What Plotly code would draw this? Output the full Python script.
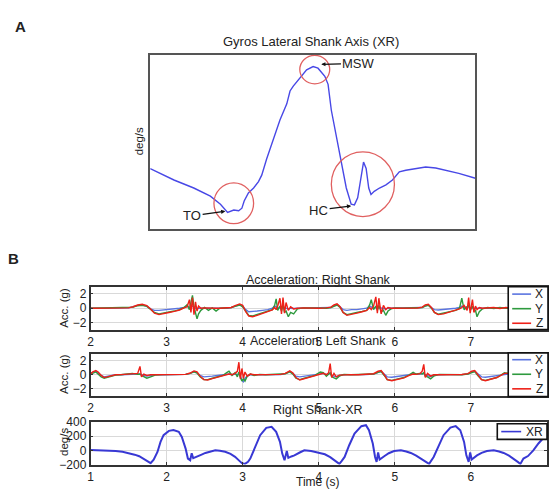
import plotly.graph_objects as go

W, H = 549, 493

# ---------------- Panel A data (one gait cycle, arbitrary units) ----------------
a_x = [0, 7.3, 13.4, 18.5, 21.6, 23.8, 25.7, 27.2, 28.2, 28.9, 30.2, 31.8, 33.3, 34.3, 35.8,
       37.9, 39.9, 42.0, 43.0, 44.0, 46.0, 48.1, 50.1, 51.6, 53.7, 54.7, 55.7, 57.2, 58.8,
       60.3, 61.8, 62.8, 63.8, 64.9, 65.6, 66.4, 67.2, 67.9, 68.9, 70.5, 72.5, 74.5, 76.6,
       78.6, 81.7, 84.7, 87.8, 90.8, 94.9, 100]
a_y = [34.5, 27.9, 23.3, 18.6, 14.0, 9.3, 10.6, 10.2, 11.7, 15.8, 20.5, 23.3, 27.0, 30.7, 40.0,
       51.2, 62.4, 71.7, 79.1, 81.9, 86.6, 91.2, 93.1, 92.2, 87.5, 82.9, 68.0, 53.1, 38.2,
       23.3, 14.0, 13.6, 17.7, 30.7, 38.2, 34.5, 23.3, 19.6, 21.4, 23.3, 25.1, 27.9, 32.6,
       33.5, 34.5, 35.4, 34.8, 33.5, 31.7, 28.9]

# events: name, arrow head (x,y), text position (x,y), circle center (x,y), circle radius (rx, ry)
ev_names = ["TO", "MSW", "HC"]
ev_head = [(23.1, 9.9), (52.6, 94.4), (61.8, 13.0)]
ev_text = [(12.9, 7.4), (64.2, 95.0), (51.8, 10.6)]
ev_circle_c = [(25.7, 14.5), (50.6, 91.4), (65.4, 25.5)]
ev_circle_r = [(6.1, 11.7), (4.6, 8.2), (9.7, 18.6)]

# ---------------- Panel B: right shank acceleration ----------------
r_t = [2.00, 2.10, 2.20, 2.30, 2.40, 2.50, 2.56, 2.62, 2.68, 2.74, 2.79, 2.84, 2.90, 2.96, 3.03,
       3.10, 3.17, 3.23, 3.27, 3.30, 3.32, 3.34, 3.36, 3.38, 3.40, 3.42, 3.45, 3.50, 3.55, 3.60,
       3.65, 3.70, 3.75, 3.80, 3.85, 3.90, 3.96, 4.00, 4.04, 4.08, 4.13, 4.19, 4.26, 4.33, 4.39,
       4.42, 4.44, 4.46, 4.49, 4.51, 4.53, 4.55, 4.57, 4.60, 4.63, 4.67, 4.72, 4.80, 4.90, 5.00,
       5.10, 5.16, 5.20, 5.24, 5.28, 5.32, 5.37, 5.43, 5.50, 5.57, 5.63, 5.67, 5.69, 5.72, 5.75,
       5.77, 5.79, 5.82, 5.85, 5.88, 5.91, 5.95, 6.00, 6.10, 6.20, 6.30, 6.36, 6.40, 6.44, 6.48,
       6.52, 6.57, 6.64, 6.72, 6.80, 6.85, 6.88, 6.91, 6.95, 6.97, 6.99, 7.02, 7.04, 7.06, 7.08,
       7.11, 7.15, 7.22, 7.30, 7.38, 7.46, 7.55, 7.62]
r_x = [0, 0, 0, 0.02, 0, 0.05, 0.2, 0.4, 0.45, 0.3, -0.1, -0.3, -0.3, -0.25, -0.2,
       -0.1, 0, 0.1, 0.3, 0.1, 0.2, 0.3, 0.1, 0, -0.1, 0, 0, 0.05, 0, 0,
       -0.05, 0, 0, 0, 0.1, 0.3, 0.5, 0.3, -0.2, -0.5, -0.5, -0.4, -0.3, -0.2, 0,
       0.3, 0.2, 0, 0.1, -0.1, 0.2, 0, 0, -0.1, 0, -0.05, 0, 0, 0, 0.02,
       0, 0.1, 0.35, 0.5, 0.2, -0.2, -0.3, -0.2, -0.2, -0.1, 0, 0.3, 0.2, 0, 0.1,
       -0.1, 0.1, 0, 0, -0.1, 0, 0, 0, 0.02, 0, 0, 0.1, 0.35, 0.45, 0.1,
       -0.2, -0.25, -0.2, -0.1, 0, 0.1, 0.3, 0.1, 0.1, 0.2, 0, 0.1, 0, 0, -0.1,
       0, 0, 0, 0.02, 0, 0.05, 0, 0]
r_y = [0, 0.02, 0, 0, 0.02, 0.05, 0.15, 0.35, 0.4, 0.25, -0.2, -0.6, -0.8, -0.7, -0.55,
       -0.4, -0.2, 0.1, 0.5, -0.2, 0.8, 1.8, 0.2, -0.6, -1.5, -0.8, -0.3, 0.1, -0.3, 0.05,
       -0.4, 0, 0.05, 0, 0.1, 0.25, 0.45, 0.2, -0.5, -1.0, -1.1, -0.9, -0.7, -0.45, -0.2,
       0.4, 1.3, -0.3, 0.3, -0.4, 0.5, -0.6, -0.4, -1.2, -0.6, -0.8, -0.1, 0.05, 0, 0.05,
       0, 0.1, 0.3, 0.45, 0.1, -0.6, -0.9, -0.8, -0.6, -0.45, -0.3, 0.5, 1.2, -0.2, 0.3,
       -0.3, 0.4, -0.5, -0.3, -1.0, -0.4, -0.1, 0.05, 0, 0.05, 0, 0.1, 0.3, 0.4, 0,
       -0.6, -0.85, -0.7, -0.5, -0.3, 0, 1.4, -0.2, 0.3, 0.4, -0.3, 0.3, -0.4, -0.3, -1.2,
       -0.5, -0.1, 0.1, -0.05, 0.1, 0, 0.05, 0]
r_z = [0, 0, -0.02, 0, 0, 0.05, 0.2, 0.45, 0.55, 0.35, -0.1, -0.7, -0.9, -0.8, -0.6,
       -0.45, -0.25, 0.05, 0.2, 1.2, -0.6, 1.5, -0.9, 0.9, -0.4, 0.3, 0, 0.05, 0, 0.05,
       0, 0, 0, 0.05, 0.1, 0.35, 0.6, 0.4, -0.5, -1.1, -1.2, -1.0, -0.75, -0.5, -0.25,
       0.1, -0.2, 0.3, 1.4, -0.8, 1.5, -0.7, 0.8, -0.3, 0.2, -0.1, 0, 0.05, 0, 0,
       0.05, 0.15, 0.45, 0.6, 0.2, -0.6, -1.0, -0.9, -0.7, -0.5, -0.3, 0.1, -0.2, 0.3, 1.6,
       -0.7, 1.4, -0.8, 0.4, -0.2, 0.1, 0, 0, 0.05, 0, 0.02, 0.15, 0.45, 0.55, 0.1,
       -0.6, -0.9, -0.8, -0.55, -0.35, -0.1, 0.1, 0.4, -0.3, 1.5, -0.7, 1.2, -0.6, 0.3, -0.2,
       0.1, 0, 0.05, 0.1, -0.05, 0.1, 0, 0.05]

# ---------------- Panel B: left shank acceleration ----------------
l_t = [2.00, 2.03, 2.07, 2.10, 2.14, 2.18, 2.22, 2.27, 2.33, 2.40, 2.48, 2.55, 2.62, 2.65, 2.67,
       2.70, 2.74, 2.79, 2.85, 2.95, 3.05, 3.15, 3.25, 3.31, 3.36, 3.40, 3.44, 3.49, 3.54, 3.60,
       3.67, 3.74, 3.79, 3.82, 3.86, 3.90, 3.93, 3.95, 3.97, 3.99, 4.01, 4.03, 4.06, 4.10, 4.15,
       4.22, 4.30, 4.40, 4.50, 4.56, 4.62, 4.66, 4.70, 4.75, 4.81, 4.88, 4.95, 5.02, 5.06, 5.10,
       5.13, 5.15, 5.17, 5.20, 5.23, 5.27, 5.33, 5.42, 5.52, 5.62, 5.72, 5.78, 5.82, 5.86, 5.90,
       5.96, 6.04, 6.12, 6.19, 6.24, 6.28, 6.33, 6.36, 6.38, 6.40, 6.43, 6.47, 6.51, 6.58, 6.68,
       6.78, 6.88, 6.96, 7.01, 7.05, 7.09, 7.14, 7.19, 7.26, 7.34, 7.40, 7.44, 7.50, 7.56, 7.62]
l_x = [0.2, 0.3, 0.5, 0.3, -0.1, -0.3, -0.2, -0.1, 0, 0, 0.05, 0.15, 0.1, 0.1, 0,
       -0.1, -0.2, -0.1, 0, 0, 0, 0.02, 0.05, 0.2, 0.45, 0.3, -0.1, -0.3, -0.3, -0.2,
       -0.1, 0, 0.1, 0.1, 0, 0.1, 0, 0.1, -0.2, -0.8, -1.0, -0.5, -0.2, 0, 0,
       0, 0.02, 0, 0.02, 0.15, 0.45, 0.2, -0.2, -0.3, -0.2, -0.1, 0, 0.1, 0.2, 0,
       0.1, 0.2, -0.1, -0.2, -0.3, -0.1, 0, 0.02, 0, 0.02, 0.1, 0.4, 0.5, 0.1, -0.3,
       -0.35, -0.25, -0.15, 0, 0.15, 0.05, 0.1, 0.1, 0.2, 0, -0.1, -0.3, -0.1, 0, 0.02,
       0, 0.02, 0.1, 0.4, 0.5, 0.1, -0.3, -0.35, -0.25, -0.15, 0, 0.1, 0.1, 0.2, 0.1]
l_y = [0.3, 0.2, 0.4, 0.1, -0.3, -0.5, -0.4, -0.2, -0.05, 0, 0.05, 0.2, 0.05, 0.1, -0.1,
       -0.3, -0.5, -0.3, -0.05, 0.02, 0, 0.03, 0.05, 0.2, 0.4, 0.25, -0.3, -0.7, -0.7, -0.5,
       -0.3, -0.1, 0.3, 0.5, -0.1, 0.3, -0.3, 0.4, -0.4, -0.9, -0.6, -0.9, -0.2, 0.1, -0.1,
       0.05, 0, 0.02, 0.05, 0.15, 0.4, 0.1, -0.5, -0.7, -0.5, -0.3, -0.1, 0.4, 0.3, -0.2,
       0.2, 0.3, -0.3, -0.4, -0.6, -0.2, 0.05, 0, 0.03, 0, 0.1, 0.35, 0.45, -0.1, -0.7,
       -0.8, -0.6, -0.4, 0, 0.35, 0.1, 0.2, 0.1, 0.3, -0.2, -0.3, -0.6, -0.2, 0.05, 0,
       0.03, 0, 0.1, 0.35, 0.45, -0.1, -0.7, -0.8, -0.6, -0.4, 0, 0.3, 0.2, 0.3, 0.2]
l_z = [0.1, 0.4, 0.6, 0.4, -0.1, -0.4, -0.3, -0.15, 0, 0.02, 0.05, 0.15, 0.2, 1.2, -0.3,
       0.1, -0.1, 0, 0, 0.02, 0, 0, 0.05, 0.25, 0.55, 0.4, -0.2, -0.7, -0.75, -0.55,
       -0.35, -0.1, 0.05, 0.1, 0, 0.2, 0.5, 1.8, -0.6, 0.9, -0.5, 0.4, -0.2, 0.1, 0,
       0, 0.02, 0, 0.05, 0.2, 0.55, 0.25, -0.4, -0.75, -0.55, -0.3, -0.1, 0.1, 0.2, 0,
       0.3, 1.6, -0.4, 0.2, -0.3, -0.05, 0, 0.02, 0, 0.03, 0.15, 0.5, 0.6, 0, -0.7,
       -0.85, -0.65, -0.45, -0.1, 0.1, 0.05, 0.15, 0.5, 1.5, -0.4, 0.2, -0.2, 0, 0, 0.02,
       0, 0.03, 0.15, 0.5, 0.6, 0.05, -0.7, -0.85, -0.65, -0.4, -0.05, 0.2, 0.2, 0.4, 0.3]

# ---------------- Panel B: right shank gyro XR ----------------
g_t = [1.00, 1.10, 1.20, 1.33, 1.42, 1.50, 1.58, 1.64, 1.70, 1.75, 1.79, 1.83, 1.88, 1.92, 1.96,
       2.03, 2.09, 2.16, 2.20, 2.25, 2.28, 2.31, 2.33, 2.35, 2.40, 2.46, 2.51, 2.58, 2.64, 2.70,
       2.77, 2.84, 2.90, 2.95, 2.99, 3.03, 3.07, 3.10, 3.16, 3.23, 3.31, 3.38, 3.44, 3.49, 3.52,
       3.55, 3.58, 3.60, 3.64, 3.68, 3.75, 3.81, 3.90, 4.00, 4.08, 4.15, 4.21, 4.27, 4.30, 4.34,
       4.40, 4.47, 4.56, 4.62, 4.66, 4.71, 4.74, 4.76, 4.78, 4.80, 4.86, 4.92, 4.99, 5.08, 5.15,
       5.21, 5.28, 5.34, 5.40, 5.45, 5.51, 5.58, 5.64, 5.73, 5.80, 5.86, 5.91, 5.94, 5.97, 5.99,
       6.01, 6.08, 6.14, 6.21, 6.30, 6.37, 6.43, 6.50, 6.56, 6.62, 6.65, 6.69, 6.75, 6.82, 6.89,
       6.95, 7.00]
g_xr = [5, 3, 0, -10, -20, -36, -60, -82, -120, -162, -180, -130, -22, 119, 213,
        274, 285, 260, 189, 25, -115, -138, -40, -110, -92, -60, -36, -10, 2, -5,
        -20, -50, -90, -140, -180, -190, -160, -115, 48, 213, 316, 330, 260, 119, -45,
        -138, -10, -105, -85, -70, -30, 0, -10, -30, -55, -95, -138, -190, -150, -92,
        72, 236, 340, 353, 283, 96, -92, -162, -30, -128, -82, -40, -10, 0, -15,
        -36, -75, -115, -160, -190, -92, 72, 213, 320, 340, 283, 119, -70, -162, -30,
        -128, -70, -35, -10, 0, -15, -36, -75, -115, -165, -190, -115, -80, 0, 100,
        180, 230]

acc_labels = ["X", "Y", "Z"]
acc_colors = ["#5b74e0", "#2e9a3e", "#ee2018"]
xr_label = "XR"
xr_color = "#3838d4"

FONT = "Liberation Sans, Arial, sans-serif"
TXT = "#222222"


def px(v):
    return v / W


def py(v):
    return 1 - v / H


fig = go.Figure()

# Panel A
fig.add_trace(go.Scatter(x=a_x, y=a_y, mode="lines", line=dict(color="#4848e6", width=1.4),
                         xaxis="x", yaxis="y", showlegend=False, hoverinfo="skip"))

# Row 1, 2
for i, (lab, col) in enumerate(zip(acc_labels, acc_colors)):
    fig.add_trace(go.Scatter(x=r_t, y=[r_x, r_y, r_z][i], mode="lines",
                             line=dict(color=col, width=1.4), xaxis="x2", yaxis="y2",
                             showlegend=False, name=lab))
for i, (lab, col) in enumerate(zip(acc_labels, acc_colors)):
    fig.add_trace(go.Scatter(x=l_t, y=[l_x, l_y, l_z][i], mode="lines",
                             line=dict(color=col, width=1.4), xaxis="x3", yaxis="y3",
                             showlegend=False, name=lab))
fig.add_trace(go.Scatter(x=g_t, y=g_xr, mode="lines", line=dict(color=xr_color, width=2),
                         xaxis="x4", yaxis="y4", showlegend=False, name=xr_label))

xdom = [px(88), px(547)]
common_ax = dict(showline=True, mirror="ticks", linecolor="#333333", linewidth=1.6,
                 ticks="inside", ticklen=3, tickcolor="#333333", showgrid=True,
                 gridcolor="#d9d9d9", gridwidth=1, zeroline=False,
                 tickfont=dict(family=FONT, size=12, color=TXT))

layout = dict(
    width=W, height=H, margin=dict(l=0, r=0, t=0, b=0),
    paper_bgcolor="white", plot_bgcolor="white", showlegend=False,
    xaxis=dict(domain=[px(148), px(475)], range=[0, 100], showline=True, mirror=True,
               linecolor="#555555", linewidth=2, showticklabels=False, ticks="",
               showgrid=False, zeroline=False),
    yaxis=dict(domain=[py(228), py(49)], range=[0, 100], showline=True, mirror=True,
               linecolor="#555555", linewidth=2, showticklabels=False, ticks="",
               showgrid=False, zeroline=False, anchor="x"),
    xaxis2=dict(domain=xdom, range=[2, 8], dtick=1, anchor="y2", **common_ax),
    yaxis2=dict(domain=[py(332), py(288)], range=[-3, 3], tickvals=[-2, 0, 2], anchor="x2", **common_ax),
    xaxis3=dict(domain=xdom, range=[2, 8], dtick=1, anchor="y3", **common_ax),
    yaxis3=dict(domain=[py(400), py(357)], range=[-3, 3], tickvals=[-2, 0, 2], anchor="x3", **common_ax),
    xaxis4=dict(domain=xdom, range=[1, 7], dtick=1, anchor="y4", **common_ax),
    yaxis4=dict(domain=[py(471), py(427)], range=[-200, 400], tickvals=[-200, 0, 200, 400],
                anchor="x4", **common_ax),
)
fig.update_layout(**layout)

shapes = []
annotations = []

# circles around events in panel A
for (cx, cy), (rx, ry) in zip(ev_circle_c, ev_circle_r):
    shapes.append(dict(type="circle", xref="x", yref="y", x0=cx - rx, x1=cx + rx,
                       y0=cy - ry, y1=cy + ry, line=dict(color="#e06060", width=1.3)))
for name, (hx, hy), (tx, ty) in zip(ev_names, ev_head, ev_text):
    annotations.append(dict(x=hx, y=hy, ax=tx, ay=ty, xref="x", yref="y", axref="x", ayref="y",
                            text=name, showarrow=True, arrowhead=2, arrowsize=0.7, arrowwidth=1.2,
                            arrowcolor="#111111", font=dict(family=FONT, size=13, color=TXT)))


def text(x, y, s, size=10, angle=0, xanchor="center", bold=False):
    annotations.append(dict(x=px(x), y=py(y), xref="paper", yref="paper", text=("<b>%s</b>" % s) if bold else s,
                            showarrow=False, textangle=angle, xanchor=xanchor, yanchor="middle",
                            font=dict(family=FONT, size=size, color=TXT)))


text(18, 20, "A", size=15, bold=True)
text(310, 36, "Gyros Lateral Shank Axis (XR)", size=13)
text(137, 138, "deg/s", size=11.5, angle=-90)

text(11, 259, "B", size=15, bold=True)
text(317, 281, "Acceleration: Right Shank", size=12.5)
text(317, 344, "Acceleration: Left Shank", size=12.5)
text(317, 415, "Right Shank-XR", size=12.5)
text(317, 489, "Time (s)", size=12)
text(62, 310, "Acc. (g)", size=11.5, angle=-90)
text(62, 378, "Acc. (g)", size=11.5, angle=-90)
text(62, 448, "deg/s", size=11.5, angle=-90)


# manual legends
def legend(x0, x1, y0, y1, labels, colors, ys, lx0, lx1, tx):
    shapes.append(dict(type="rect", xref="paper", yref="paper", x0=px(x0), x1=px(x1), y0=py(y1), y1=py(y0),
                       fillcolor="white", line=dict(color="#111111", width=1.6), layer="above"))
    for lab, col, yy in zip(labels, colors, ys):
        shapes.append(dict(type="line", xref="paper", yref="paper", x0=px(lx0), x1=px(lx1), y0=py(yy), y1=py(yy),
                           line=dict(color=col, width=1.6), layer="above"))
        text(tx, yy, lab, size=12)


legend(508, 548, 288, 332, acc_labels, acc_colors, [295.5, 310.5, 325.5], 512, 531, 539)
legend(508, 548, 356, 401, acc_labels, acc_colors, [363, 378, 393], 512, 531, 539)
legend(497, 547, 429, 445, [xr_label], [xr_color], [437], 501, 521, 534)

fig.update_layout(shapes=shapes, annotations=annotations)
fig.write_html("out.html", config={"displayModeBar": False},
               post_script="document.body.style.margin='0';document.body.style.overflow='hidden';")
